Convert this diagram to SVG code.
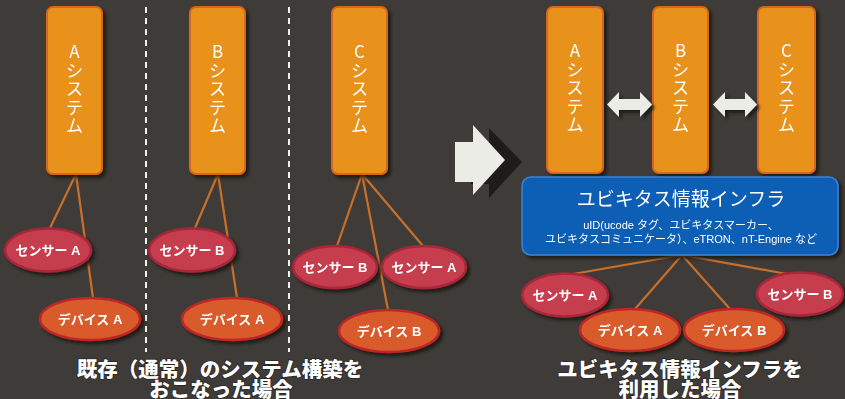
<svg xmlns="http://www.w3.org/2000/svg" width="845" height="399" viewBox="0 0 845 399">
<defs>
<filter id="sh" x="-20%" y="-20%" width="150%" height="150%">
<feDropShadow dx="3" dy="3" stdDeviation="1.5" flood-color="#141210" flood-opacity="0.85"/>
</filter>
<style>
.bg{fill:#3f3b39}
.sys{fill:#e8921f;stroke:#d8661a;stroke-width:2}
.sen{fill:#c63c4e;stroke:#a8263a;stroke-width:2.5}
.dev{fill:#d95a2c;stroke:#be2628;stroke-width:2.5}
.con{stroke:#c8702a;stroke-width:2.2;fill:none}
.dash{stroke:#f2f2ec;stroke-width:2;stroke-dasharray:6 5}
.vt{font-family:"Noto Sans CJK JP","Noto Sans",sans-serif;font-size:17px;fill:#fff;text-anchor:middle}
.lb{font-family:"Liberation Sans","Noto Sans CJK JP",sans-serif;font-size:13px;font-weight:bold;fill:#fff;text-anchor:middle}
.sub{font-family:"Liberation Sans","Noto Sans CJK JP",sans-serif;font-size:11px;fill:#fff;text-anchor:middle}
.cap{font-family:"Noto Sans CJK JP","Noto Sans",sans-serif;font-size:20.5px;font-weight:900;fill:#fff;text-anchor:middle;stroke:#2a2624;stroke-width:1.5;paint-order:stroke}
.arr{fill:#ecece6}
</style>
</defs>
<rect class="bg" x="0" y="0" width="845" height="399"/>

<g id="dividers">
<line class="dash" x1="146" y1="7" x2="146" y2="352"/>
<line class="dash" x1="289" y1="7" x2="289" y2="352"/>
</g>

<g id="connectors">
<line class="con" x1="76" y1="174" x2="50" y2="228"/>
<line class="con" x1="76" y1="174" x2="93" y2="298"/>
<line class="con" x1="218" y1="174" x2="195" y2="228"/>
<line class="con" x1="218" y1="174" x2="237" y2="298"/>
<line class="con" x1="362" y1="174" x2="337" y2="246"/>
<line class="con" x1="362" y1="174" x2="423" y2="246"/>
<line class="con" x1="362" y1="174" x2="388" y2="310"/>
<line class="con" x1="682" y1="255" x2="573" y2="274"/>
<line class="con" x1="682" y1="255" x2="635" y2="309"/>
<line class="con" x1="682" y1="255" x2="730" y2="309"/>
<line class="con" x1="682" y1="255" x2="787" y2="274"/>
</g>

<g id="sysA-left" filter="url(#sh)">
<rect class="sys" x="47" y="7" width="55" height="167" rx="6"/>
<text class="vt"><tspan x="74.5" y="58">A</tspan><tspan x="74.5" y="77">シ</tspan><tspan x="74.5" y="95">ス</tspan><tspan x="74.5" y="114">テ</tspan><tspan x="74.5" y="132">ム</tspan></text>
</g>
<g id="sysB-left" filter="url(#sh)">
<rect class="sys" x="190" y="7" width="55" height="167" rx="6"/>
<text class="vt"><tspan x="217.5" y="58">B</tspan><tspan x="217.5" y="77">シ</tspan><tspan x="217.5" y="95">ス</tspan><tspan x="217.5" y="114">テ</tspan><tspan x="217.5" y="132">ム</tspan></text>
</g>
<g id="sysC-left" filter="url(#sh)">
<rect class="sys" x="332" y="7" width="55" height="167" rx="6"/>
<text class="vt"><tspan x="359.5" y="58">C</tspan><tspan x="359.5" y="77">シ</tspan><tspan x="359.5" y="95">ス</tspan><tspan x="359.5" y="114">テ</tspan><tspan x="359.5" y="132">ム</tspan></text>
</g>

<g id="senA-left" filter="url(#sh)">
<ellipse class="sen" cx="48" cy="250" rx="43" ry="21.5"/>
<text class="lb" x="48" y="255">センサー A</text>
</g>
<g id="devA-left" filter="url(#sh)">
<ellipse class="dev" cx="90" cy="319" rx="50" ry="21"/>
<text class="lb" x="90" y="324">デバイス A</text>
</g>
<g id="senB-mid" filter="url(#sh)">
<ellipse class="sen" cx="192" cy="250" rx="43" ry="21.5"/>
<text class="lb" x="192" y="255">センサー B</text>
</g>
<g id="devA-mid" filter="url(#sh)">
<ellipse class="dev" cx="232" cy="319" rx="50" ry="21"/>
<text class="lb" x="232" y="324">デバイス A</text>
</g>
<g id="senB-right" filter="url(#sh)">
<ellipse class="sen" cx="335" cy="267" rx="42" ry="21"/>
<text class="lb" x="335" y="272">センサー B</text>
</g>
<g id="senA-right" filter="url(#sh)">
<ellipse class="sen" cx="424" cy="267" rx="42" ry="21"/>
<text class="lb" x="424" y="272">センサー A</text>
</g>
<g id="devB-right" filter="url(#sh)">
<ellipse class="dev" cx="389" cy="331" rx="50" ry="21"/>
<text class="lb" x="389" y="336">デバイス B</text>
</g>

<g id="big-arrow">
<polygon fill="#1e1c1b" points="471,146 489,146 489,128 522,162 489,198 489,184 471,184"/>
<polygon fill="#ecece6" points="455,142 473,142 473,125 505,160 473,195 473,182 455,182"/>
</g>

<g id="sysA-new" filter="url(#sh)">
<rect class="sys" x="547" y="7" width="56" height="166" rx="6"/>
<text class="vt"><tspan x="575" y="57">A</tspan><tspan x="575" y="76">シ</tspan><tspan x="575" y="94">ス</tspan><tspan x="575" y="113">テ</tspan><tspan x="575" y="131">ム</tspan></text>
</g>
<g id="sysB-new" filter="url(#sh)">
<rect class="sys" x="653" y="7" width="55" height="166" rx="6"/>
<text class="vt"><tspan x="680.5" y="57">B</tspan><tspan x="680.5" y="76">シ</tspan><tspan x="680.5" y="94">ス</tspan><tspan x="680.5" y="113">テ</tspan><tspan x="680.5" y="131">ム</tspan></text>
</g>
<g id="sysC-new" filter="url(#sh)">
<rect class="sys" x="758" y="7" width="57" height="166" rx="6"/>
<text class="vt"><tspan x="786.5" y="57">C</tspan><tspan x="786.5" y="76">シ</tspan><tspan x="786.5" y="94">ス</tspan><tspan x="786.5" y="113">テ</tspan><tspan x="786.5" y="131">ム</tspan></text>
</g>

<g id="link-AB" filter="url(#sh)">
<polygon class="arr" points="607,104.5 619,92 619,99 640,99 640,92 652,104.5 640,117 640,110 619,110 619,117"/>
</g>
<g id="link-BC" filter="url(#sh)">
<polygon class="arr" points="713,104.5 725,92 725,99 745,99 745,92 757,104.5 745,117 745,110 725,110 725,117"/>
</g>

<g id="infra" filter="url(#sh)">
<rect x="522" y="177" width="316" height="78" rx="9" fill="#0f5eb6" stroke="#3d82d2" stroke-width="1.5"/>
<text x="681" y="206" font-family="'Noto Sans CJK JP','Noto Sans',sans-serif" font-size="19" fill="#fff" text-anchor="middle">ユビキタス情報インフラ</text>
<text class="sub" x="681" y="229">uID(ucode タグ、ユビキタスマーカー、</text>
<text class="sub" x="681" y="243">ユビキタスコミュニケータ）、eTRON、nT-Engine など</text>
</g>

<g id="senA-new" filter="url(#sh)">
<ellipse class="sen" cx="565" cy="295" rx="43" ry="21.5"/>
<text class="lb" x="565" y="300">センサー A</text>
</g>
<g id="senB-new" filter="url(#sh)">
<ellipse class="sen" cx="800" cy="294" rx="43" ry="21.5"/>
<text class="lb" x="800" y="299">センサー B</text>
</g>
<g id="devA-new" filter="url(#sh)">
<ellipse class="dev" cx="630" cy="330" rx="50" ry="21"/>
<text class="lb" x="630" y="335">デバイス A</text>
</g>
<g id="devB-new" filter="url(#sh)">
<ellipse class="dev" cx="734" cy="330" rx="50" ry="21"/>
<text class="lb" x="734" y="335">デバイス B</text>
</g>

<g id="captions">
<text class="cap" x="220" y="377">既存（通常）のシステム構築を</text>
<text class="cap" x="221" y="397">おこなった場合</text>
<text class="cap" x="680" y="377">ユビキタス情報インフラを</text>
<text class="cap" x="680" y="397">利用した場合</text>
</g>
</svg>
